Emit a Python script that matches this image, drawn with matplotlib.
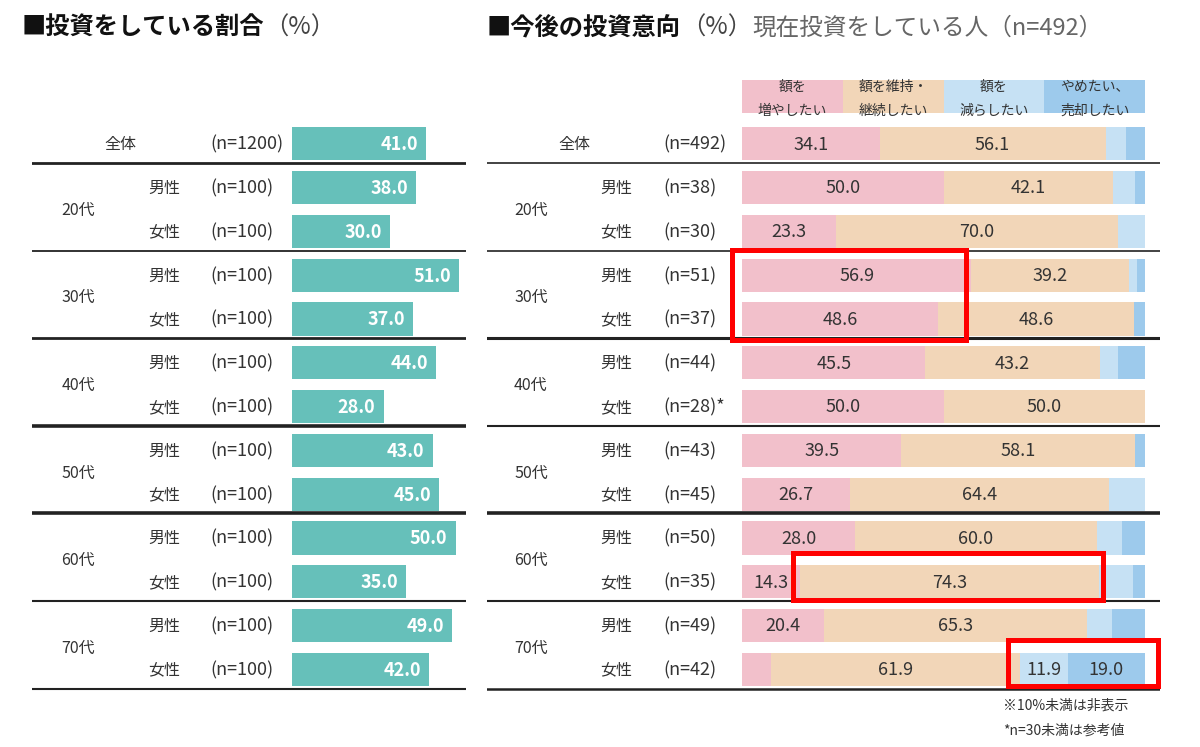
import numpy as np
import matplotlib
matplotlib.use("Agg")
import matplotlib.pyplot as plt
from matplotlib.patches import Rectangle

plt.rcParams['font.family'] = ['Noto Sans CJK JP', 'DejaVu Sans']

# data
ages = ["20代", "30代", "40代", "50代", "60代", "70代"]
sexes = ["全体", "男性", "女性", "男性", "女性", "男性", "女性",
         "男性", "女性", "男性", "女性", "男性", "女性"]
left_n = ["(n=1200)"] + ["(n=100)"] * 12
invest_rate = [41.0, 38.0, 30.0, 51.0, 37.0, 44.0, 28.0, 43.0, 45.0, 50.0, 35.0, 49.0, 42.0]

right_n = ["(n=492)", "(n=38)", "(n=30)", "(n=51)", "(n=37)", "(n=44)", "(n=28)*",
           "(n=43)", "(n=45)", "(n=50)", "(n=35)", "(n=49)", "(n=42)"]
increase = [34.1, 50.0, 23.3, 56.9, 48.6, 45.5, 50.0, 39.5, 26.7, 28.0, 14.3, 20.4, 7.1]
keep = [56.1, 42.1, 70.0, 39.2, 48.6, 43.2, 50.0, 58.1, 64.4, 60.0, 74.3, 65.3, 61.9]
decrease = [5.1, 5.3, 6.7, 1.9, 0.0, 4.5, 0.0, 0.0, 8.9, 6.3, 8.3, 6.2, 11.9]
sell = [4.7, 2.6, 0.0, 2.0, 2.8, 6.8, 0.0, 2.4, 0.0, 5.7, 3.1, 8.1, 19.0]
header = [("額を", "増やしたい"), ("額を維持・", "継続したい"),
          ("額を", "減らしたい"), ("やめたい、", "売却したい")]

teal = "#66c0ba"
seg_colors = ["#f2c0cb", "#f2d6b8", "#c6e1f4", "#9dcaec"]
txt = "#333333"

fig = plt.figure(figsize=(12, 7.47), dpi=100)
H = 747.0
ylim = (12.76, -1.51)
rows = np.arange(len(sexes))
bar_y = rows + 0.06
lab_y = rows + 0.08


def row_labels(ax, xs_all, xs_age, xs_sex, xs_n, nlabels):
    ax.text(xs_all, lab_y[0], sexes[0], ha="center", va="center", fontsize=11.5, color=txt)
    for k, age in enumerate(ages):
        ax.text(xs_age, 2 * k + 1.58, age, ha="center", va="center", fontsize=11.5, color=txt)
    for i in range(1, len(sexes)):
        ax.text(xs_sex, lab_y[i], sexes[i], ha="center", va="center", fontsize=11.5, color=txt)
    for i, lab in enumerate(nlabels):
        ax.text(xs_n, lab_y[i], lab, ha="left", va="center", fontsize=13, color=txt)


# ---- left chart ----
axl = fig.add_axes([32 / 1200, 1 - 700 / H, (466 - 32) / 1200, (700 - 75) / H])
axl.set_xlim(-79.5, 53.2)
axl.set_ylim(*ylim)
axl.axis("off")
axl.barh(bar_y, invest_rate, height=0.76, color=teal)
for y, v in zip(lab_y, invest_rate):
    axl.text(v - 2.5, y, f"{v:.1f}", ha="right", va="center", fontsize=13,
             fontweight="bold", color="white")
row_labels(axl, -52.6, -65.4, -39.1, -25.1, left_n)
left_lw = [2.0, 1.3, 2.0, 2.6, 2.6, 1.5, 1.5]
for b, lw in zip(np.arange(0.5, 13, 2), left_lw):
    axl.axhline(b, color="#222222", lw=lw)

# ---- right chart ----
axr = fig.add_axes([487 / 1200, 1 - 700 / H, (1160 - 487) / 1200, (700 - 75) / H])
axr.set_xlim(-63.3, 103.7)
axr.set_ylim(*ylim)
axr.axis("off")
left = np.zeros(len(increase))
for vals, c in zip([increase, keep, decrease, sell], seg_colors):
    vals = np.array(vals)
    axr.barh(bar_y, vals, left=left, height=0.76, color=c)
    for y, l, v in zip(lab_y, left, vals):
        if v >= 10:
            axr.text(l + v / 2, y, f"{v:.1f}", ha="center", va="center",
                     fontsize=13, color=txt)
    left = left + vals

# header boxes
hx = np.arange(4) * 25
axr.barh([-1.02] * 4, [25] * 4, left=hx, height=0.75, color=seg_colors)
for x, (l1, l2) in zip(hx, header):
    axr.text(x + 12.5, -1.24, l1, ha="center", va="center", fontsize=10, color=txt)
    axr.text(x + 12.5, -0.69, l2, ha="center", va="center", fontsize=10, color=txt)

row_labels(axr, -41.7, -52.4, -31.3, -19.6, right_n)
right_lw = [1.2, 1.2, 2.2, 1.5, 2.6, 1.5, 1.8]
for b, lw in zip(np.arange(0.5, 13, 2), right_lw):
    axr.axhline(b, color="#222222", lw=lw)

# red highlight boxes
for x0, x1, y0, y1 in [(-2.5, 55.6, 2.48, 4.54), (12.7, 89.6, 9.40, 10.47),
                       (66.0, 103.2, 11.40, 12.45)]:
    axr.add_patch(Rectangle((x0, y0), x1 - x0, y1 - y0, fill=False, edgecolor="#ff0000",
                            lw=3.6, clip_on=False, zorder=10))

# ---- titles ----
t1 = fig.text(22 / 1200, 1 - 28 / H, "■投資をしている割合", fontsize=17.5, fontweight="bold",
              color="#111111", va="center")
plt.annotate("（%）", xy=(1, 0.5), xycoords=t1, va="center", fontsize=17.5, color="#444444")

t2 = fig.text(487 / 1200, 1 - 28 / H, "■今後の投資意向", fontsize=17.5, fontweight="bold",
              color="#111111", va="center")
t3 = plt.annotate("（%）", xy=(1, 0.5), xycoords=t2, va="center", fontsize=17.5, color="#444444")
plt.annotate("現在投資をしている人（n=492）", xy=(1, 0.5), xycoords=t3, va="center",
             fontsize=17, color="#666666")

# footnotes
fig.text(1003 / 1200, 1 - 706 / H, "※10%未満は非表示", fontsize=10, color=txt, va="center")
fig.text(1003 / 1200, 1 - 731 / H, "*n=30未満は参考値", fontsize=10, color=txt, va="center")

fig.savefig("out.png", dpi=100, facecolor="white")
